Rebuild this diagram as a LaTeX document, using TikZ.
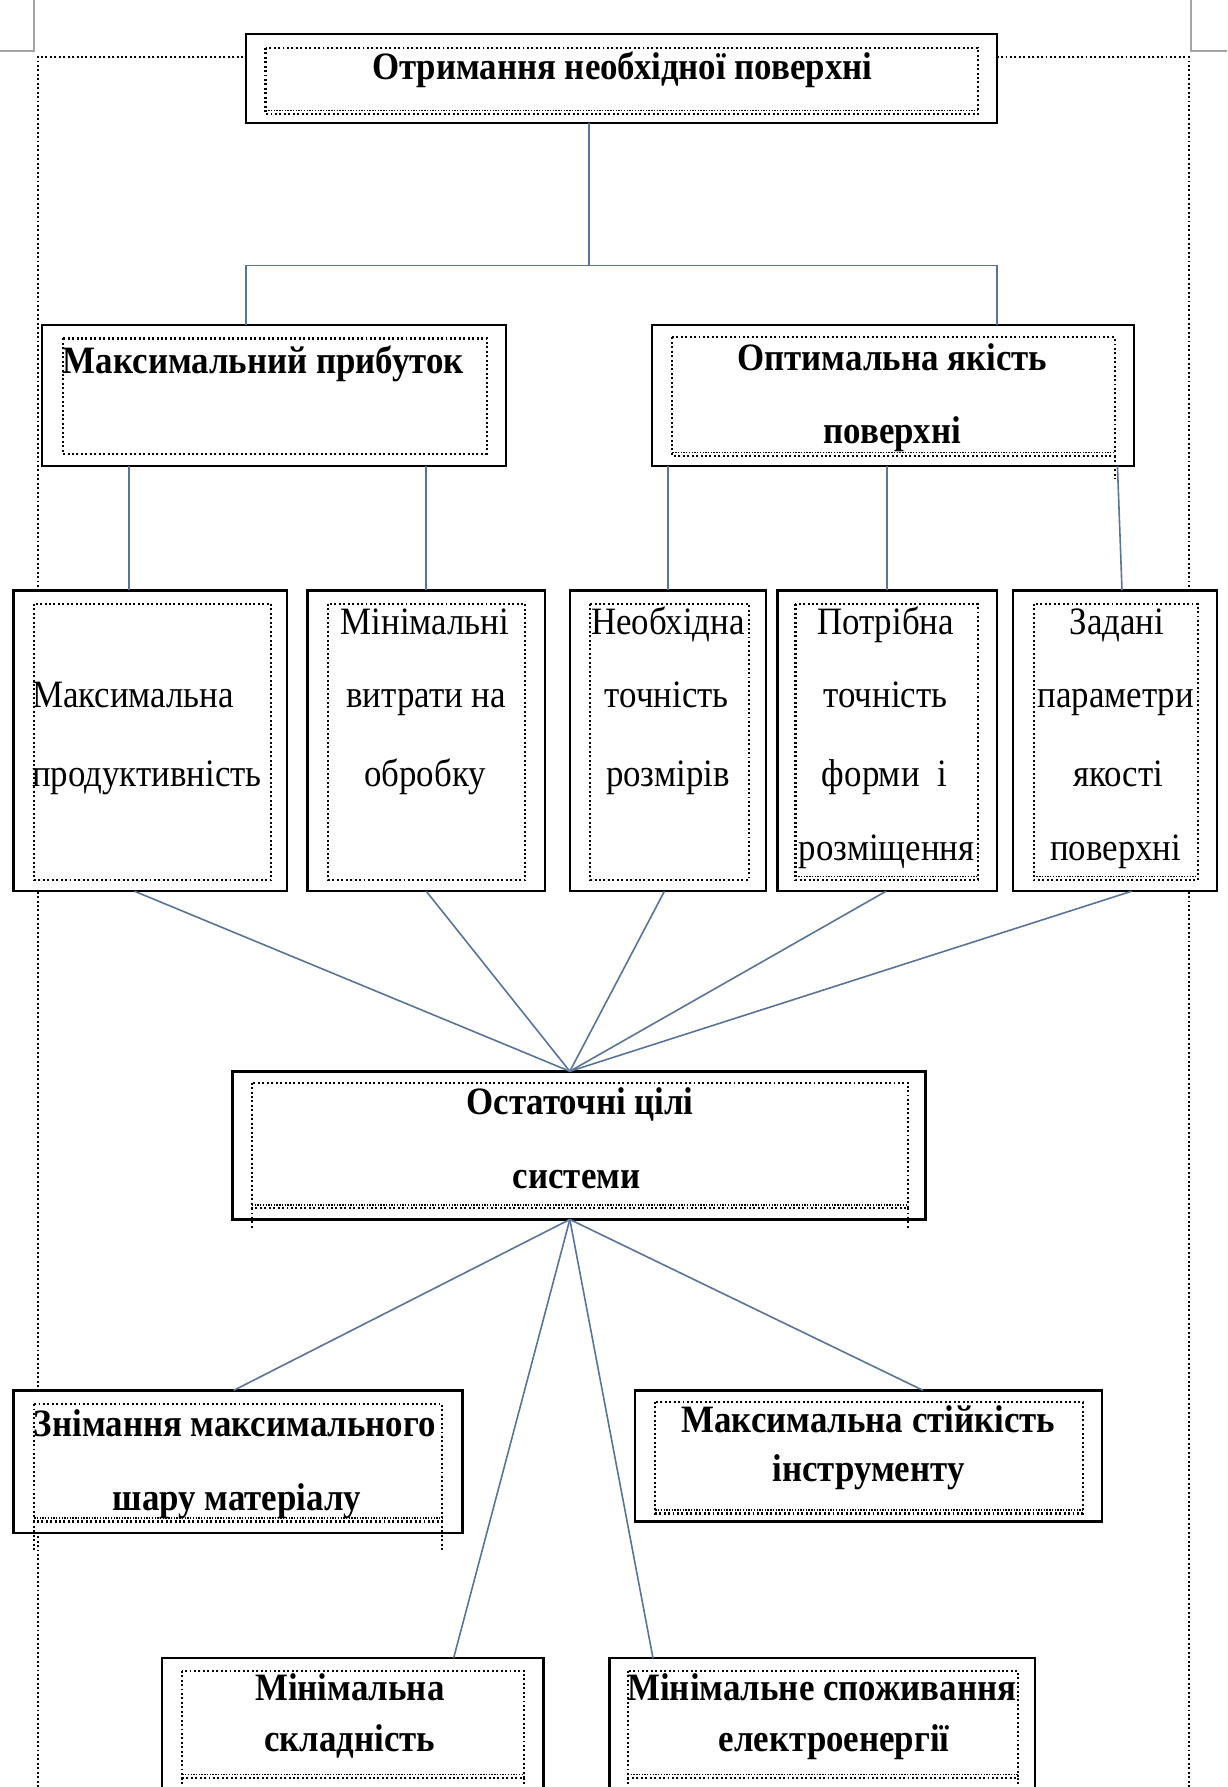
\documentclass[tikz,border=0pt]{standalone}
\usepackage{fontspec}
\setmainfont{Liberation Serif}[FakeStretch=0.9]
\usetikzlibrary{calc}
\definecolor{conncol}{RGB}{88,116,150}
\definecolor{markcol}{RGB}{165,165,165}
\tikzset{
 obox/.style={draw=black, line width=2.2pt, fill=white, rectangle, inner sep=0pt, outer sep=0pt},
 idot/.style={draw=black, line width=1.9pt, dash pattern=on 1.7pt off 2.2pt},
 wavy/.style={draw=black, line width=1.6pt, dash pattern=on 1.2pt off 1.2pt},
 conn/.style={draw=conncol, line width=1.4pt},
 btxt/.style={font=\fontsize{34}{40}\selectfont\bfseries, inner sep=0pt, anchor=base},
 rtxt/.style={font=\fontsize{34}{40}\selectfont, inner sep=0pt, anchor=base},
}
\newcommand\obx[5]{\node[obox, anchor=north west, minimum width={(#4-#2)*1pt}, minimum height={(#5-#3)*1pt}] (#1) at (#2,#3) {};}
\newcommand\ibx[4]{\draw[idot] (#1,#2) rectangle (#3,#4);}
\newcommand\wv[3]{\draw[wavy] (#1,#3-3) -- (#2,#3-3);}
\begin{document}
\begin{tikzpicture}[x=1pt,y=-1pt]
\useasboundingbox (0,0) rectangle (1077,1568);
\clip (0,0) rectangle (1077,1568);
\fill[white] (0,0) rectangle (1077,1568);
% page marks and frame
\draw[markcol, line width=1.5pt] (30,0) -- (30,45) -- (0,45);
\draw[markcol, line width=1.5pt] (1045,0) -- (1045,45) -- (1077,45);
\draw[idot] (33,1568) -- (33,50) -- (1043,50) -- (1043,1568);

% outer boxes
\obx{top}{216}{30}{875}{108}
\obx{mp}{37}{285}{444}{409}
\obx{oq}{572}{285}{995}{409}
\obx{A}{12}{518}{252}{782}
\obx{B}{270}{518}{478}{782}
\obx{C}{500}{518}{672}{782}
\obx{D}{682}{518}{875}{782}
\obx{E}{889}{518}{1068}{782}
\obx{ost}{204}{940}{812}{1070}
\obx{zn}{12}{1220}{406}{1345}
\obx{st}{557}{1220}{967}{1335}
\obx{ms}{142}{1455}{477}{1620}
\obx{me}{535}{1455}{908}{1620}

% connectors
\coordinate (j) at (517,233);
\draw[conn] ([xshift=-28.5pt]top.south) -- (j);
\draw[conn] ([xshift=-24.5pt]mp.north) |- (j) -| ([xshift=91.5pt]oq.north);
\path ([xshift=-19pt]A.north) coordinate (a1);
\draw[conn] (mp.south -| a1) -- (a1);
\draw[conn] (mp.south -| B.north) -- (B.north);
\draw[conn] (oq.south -| C.north) -- (C.north);
\draw[conn] (oq.south -| D.north) -- (D.north);
\draw[conn] ([xshift=2pt]oq.south -| E.north) -- ([xshift=6pt]E.north);
\path ([xshift=-8pt]ost.north) coordinate (oN);
\path ([xshift=-8pt]ost.south) coordinate (oS);
\draw[conn] ([xshift=-14pt]A.south) -- (oN);
\draw[conn] (B.south) -- (oN);
\draw[conn] ([xshift=-3pt]C.south) -- (oN);
\draw[conn] ([xshift=-1pt]D.south) -- (oN);
\draw[conn] ([xshift=14.5pt]E.south) -- (oN);
\draw[conn] (oS) -- ([xshift=-4pt]zn.north);
\draw[conn] (oS) -- ([xshift=48pt]st.north);
\draw[conn] (oS) -- ([xshift=88.5pt]ms.north);
\draw[conn] (oS) -- ([xshift=-148.5pt]me.north);

% inner dotted frames
\ibx{233}{42}{858}{100} \wv{233}{858}{100}
\ibx{55}{297}{427}{398}
\ibx{590}{296}{978}{400} \wv{590}{978}{400}
\draw[idot] (978,400) -- (978,420);
\ibx{30}{530}{238}{772}
\ibx{288}{530}{461}{772}
\ibx{518}{530}{657}{772}
\ibx{698}{530}{858}{772} \wv{698}{858}{772}
\ibx{907}{530}{1051}{772} \wv{907}{1051}{772}
\ibx{221}{950}{797}{1060} \wv{221}{797}{1060}
\draw[idot] (221,1060) -- (221,1078); \draw[idot] (797,1060) -- (797,1078);
\ibx{30}{1232}{388}{1335} \wv{30}{388}{1335}
\draw[idot] (30,1335) -- (30,1360); \draw[idot] (388,1335) -- (388,1360);
\ibx{575}{1230}{950}{1328} \wv{575}{950}{1328}
\ibx{160}{1466}{460}{1560} \wv{160}{460}{1560}
\draw[idot] (160,1560) -- (160,1600); \draw[idot] (460,1560) -- (460,1600);
\ibx{551}{1466}{893}{1560} \wv{551}{893}{1560}
\draw[idot] (551,1560) -- (551,1600); \draw[idot] (893,1560) -- (893,1600);

% texts
\node[btxt] (t0) at (546,70) {Отримання необхідної поверхні};
\node[btxt, anchor=base west] (t1) at (55,328) {Максимальний прибуток};
\node[btxt] (t2a) at (783,325) {Оптимальна якість};
\node[btxt] (t2b) at (783,389) {поверхні};
\node[rtxt, anchor=base west] (tAa) at (28,621) {Максимальна};
\node[rtxt, anchor=base west] (tAb) at (28,690) {продуктивність};
\node[rtxt] (tBa) at (373,557) {Мінімальні};
\node[rtxt] (tBb) at (374,621) {витрати на};
\node[rtxt] (tBc) at (373,690) {обробку};
\node[rtxt] (tCa) at (586,557) {Необхідна};
\node[rtxt] (tCb) at (585,621) {точність};
\node[rtxt] (tCc) at (586,690) {розмірів};
\node[rtxt] (tDa) at (777,557) {Потрібна};
\node[rtxt] (tDb) at (777,621) {точність};
\node[rtxt] (tDc) at (776,690) {форми\ \ і};
\node[rtxt] (tDd) at (778,755) {розміщення};
\node[rtxt] (tEa) at (980,557) {Задані};
\node[rtxt] (tEb) at (979,621) {параметри};
\node[rtxt] (tEc) at (981,690) {якості};
\node[rtxt] (tEd) at (979,755) {поверхні};
\node[btxt] (tOa) at (509,978) {Остаточні цілі};
\node[btxt] (tOb) at (506,1043) {системи};
\node[btxt] (tZa) at (206,1260) {Знімання максимального};
\node[btxt] (tZb) at (208,1325) {шару матеріалу};
\node[btxt] (tSa) at (762,1257) {Максимальна стійкість};
\node[btxt] (tSb) at (762,1300) {інструменту};
\node[btxt] (tMa) at (307,1492) {Мінімальна};
\node[btxt] (tMb) at (307,1537) {складність};
\node[btxt] (tNa) at (721,1492) {Мінімальне споживання};
\node[btxt] (tNb) at (732,1537) {електроенергії};
\end{tikzpicture}
\end{document}
